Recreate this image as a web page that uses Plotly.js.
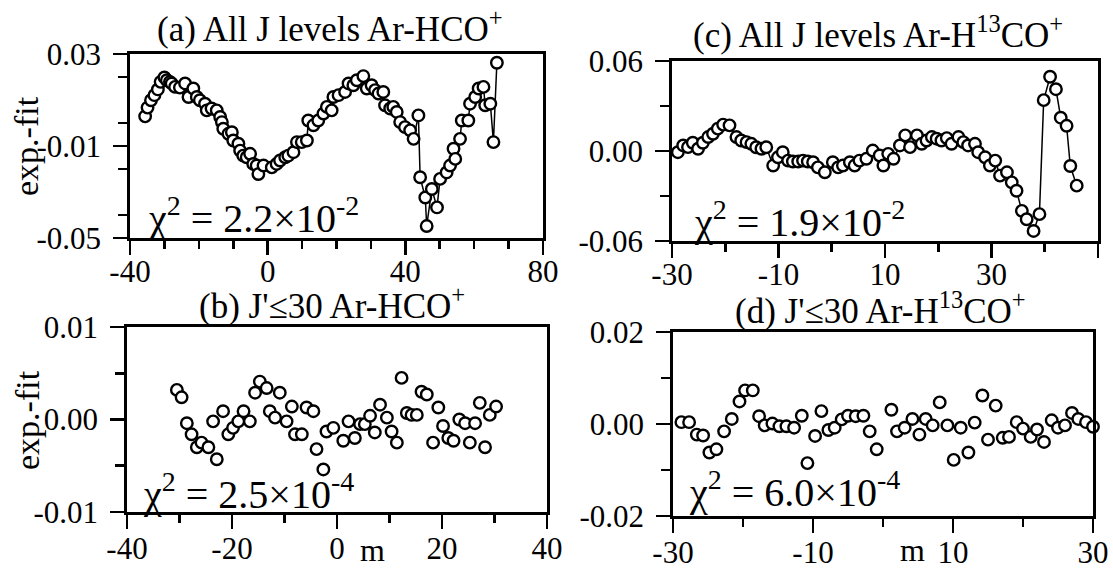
<!DOCTYPE html>
<html>
<head>
<meta charset="utf-8">
<script src="https://cdn.plot.ly/plotly-3.0.1.min.js"></script>
<style>html,body{margin:0;padding:0;background:#fff;}#chart{width:1113px;height:569px;}</style>
</head>
<body>
<div id="chart"></div>
<script>
// ---------- data ----------
// (a) All J levels Ar-HCO+
const mA = [-35.6,-34.9,-33.9,-32.9,-31.9,-31.1,-30.0,-29.3,-28.4,-27.9,-26.9,-25.5,-24.0,-23.0,-21.6,-20.6,-19.7,-18.2,-17.7,-16.3,-14.8,-13.8,-13.3,-12.9,-11.4,-10.4,-10.0,-8.5,-8.0,-7.1,-6.1,-5.1,-4.2,-3.2,-2.7,-1.2,1.2,2.6,3.6,5.1,6.0,7.5,8.5,9.9,11.4,11.8,13.3,14.7,16.2,17.2,18.6,19.1,20.6,22.5,23.5,24.9,25.9,27.8,28.8,30.2,31.2,32.2,33.6,34.1,35.6,36.5,37.5,38.5,39.9,41.4,42.4,43.8,44.3,45.8,46.2,47.7,49.2,50.1,52.0,53.0,54.0,54.5,55.9,56.4,58.3,58.8,60.3,61.3,62.7,63.2,64.7,65.6,66.6];
const dA = [0.0029,0.0067,0.0099,0.0121,0.0146,0.0179,0.0198,0.0186,0.0179,0.0172,0.0157,0.0154,0.0172,0.0113,0.0150,0.0113,0.0099,0.0084,0.0055,0.0063,0.0055,0.0026,0.0004,-0.0025,-0.0047,-0.0040,-0.0076,-0.0090,-0.0120,-0.0142,-0.0149,-0.0134,-0.0178,-0.0185,-0.0222,-0.0185,-0.0193,-0.0178,-0.0163,-0.0149,-0.0142,-0.0127,-0.0083,-0.0083,-0.0076,0.0011,-0.0010,0.0011,0.0041,0.0070,0.0055,0.0113,0.0121,0.0135,0.0172,0.0164,0.0186,0.0204,0.0150,0.0164,0.0143,0.0128,0.0135,0.0077,0.0063,0.0070,0.0048,0.0004,-0.0018,-0.0032,-0.0069,0.0033,-0.0236,-0.0324,-0.0448,-0.0287,-0.0367,-0.0243,-0.0215,-0.0185,-0.0112,-0.0156,-0.0069,0.0011,0.0011,0.0084,0.0113,0.0150,0.0157,0.0077,0.0084,-0.0083,0.0262];

// (b) J'<=30 Ar-HCO+
const mB = [-30.5,-29.6,-28.6,-27.7,-26.7,-25.8,-24.5,-23.6,-22.9,-21.7,-20.7,-19.8,-18.8,-17.8,-16.6,-15.6,-14.7,-13.4,-12.8,-11.8,-10.9,-9.6,-8.6,-8.0,-6.7,-5.8,-4.5,-3.9,-2.6,-2.0,-0.7,1.2,2.2,3.4,4.4,5.3,6.3,7.2,8.2,9.5,10.4,11.4,12.3,13.3,14.2,15.2,16.1,17.1,18.3,19.3,20.2,21.2,22.2,23.3,24.4,25.3,26.3,27.2,28.2,29.1,30.3];
const dB = [0.0032,0.0024,-0.0004,-0.0016,-0.0030,-0.0025,-0.0030,-0.0002,-0.0043,0.0009,-0.0016,-0.0009,-0.0002,0.0009,-0.0002,0.0029,0.0041,0.0034,0.0009,0.0002,0.0029,-0.0002,0.0014,-0.0016,-0.0016,0.0013,0.0009,-0.0032,-0.0054,-0.0013,-0.0009,-0.0023,-0.0002,-0.0020,-0.0005,-0.0005,0.0004,-0.0014,0.0016,0.0002,-0.0013,-0.0025,0.0045,0.0007,0.0005,0.0005,0.0030,0.0027,-0.0025,0.0013,-0.0007,-0.0020,-0.0023,0.0000,-0.0004,-0.0025,-0.0004,0.0018,-0.0030,0.0005,0.0014];

// (c) All J levels Ar-H13CO+
const mC = [-28.9,-27.9,-27.0,-26.1,-25.1,-24.2,-23.2,-22.3,-21.4,-20.4,-19.2,-17.9,-17.0,-16.0,-15.1,-14.2,-13.2,-12.3,-11.0,-10.1,-9.2,-8.2,-7.3,-6.3,-5.4,-4.5,-3.5,-2.6,-1.3,0.2,1.2,2.1,3.4,4.3,5.2,6.5,7.7,9.0,9.7,10.6,11.6,12.8,13.8,14.7,16.0,16.9,17.8,18.8,19.7,20.6,21.6,22.5,23.8,24.7,25.6,26.9,27.5,28.8,29.7,30.7,31.6,32.9,33.8,34.7,35.7,36.6,37.9,39.0,39.8,41.0,42.1,43.0,44.1,44.8,46.0];
const dC = [-0.0008,0.0037,0.0026,0.0055,0.0015,0.0055,0.0093,0.0115,0.0149,0.0176,0.0171,0.0093,0.0070,0.0059,0.0048,0.0025,0.0015,0.0025,-0.0097,-0.0042,-0.0008,-0.0064,-0.0070,-0.0070,-0.0064,-0.0070,-0.0075,-0.0109,-0.0142,-0.0075,-0.0109,-0.0097,-0.0075,-0.0097,-0.0064,-0.0052,0.0003,-0.0030,-0.0097,-0.0019,-0.0052,0.0037,0.0104,0.0026,0.0104,0.0048,0.0070,0.0093,0.0082,0.0070,0.0086,0.0048,0.0093,0.0059,0.0037,0.0048,-0.0008,-0.0042,-0.0097,-0.0064,-0.0164,-0.0142,-0.0209,-0.0265,-0.0399,-0.0455,-0.0533,-0.0421,0.0339,0.0495,0.0412,0.0222,0.0168,-0.0100,-0.0231];

// (d) J'<=30 Ar-H13CO+
const mD = [-28.8,-27.7,-26.6,-25.7,-24.8,-23.8,-22.7,-21.6,-20.5,-19.7,-18.6,-17.7,-16.9,-15.8,-14.8,-13.8,-12.7,-11.6,-10.8,-9.7,-8.8,-7.8,-6.9,-5.9,-5.0,-3.9,-2.8,-1.9,-0.9,1.2,2.0,3.1,4.2,5.2,6.1,7.1,8.1,9.2,10.1,11.1,12.2,13.1,14.2,15.0,16.1,17.1,18.0,19.1,20.0,21.1,22.0,23.0,24.1,25.0,26.0,27.0,27.9,29.0,30.0];
const dD = [0.0004,0.0004,-0.0023,-0.0025,-0.0062,-0.0055,-0.0016,0.0011,0.0049,0.0073,0.0073,0.0017,-0.0003,0.0001,-0.0005,-0.0005,-0.0008,0.0018,-0.0085,-0.0026,0.0028,-0.0013,-0.0008,0.0010,0.0018,0.0017,0.0018,-0.0016,-0.0055,0.0031,-0.0016,-0.0008,0.0011,-0.0023,0.0011,-0.0003,0.0047,-0.0003,-0.0078,-0.0008,-0.0062,0.0003,0.0062,-0.0034,0.0040,-0.0030,-0.0028,0.0004,-0.0010,-0.0028,-0.0012,-0.0039,0.0008,-0.0008,-0.0003,0.0024,0.0011,0.0004,-0.0006];

// tick values and labels
const xTickA = [-40, 0, 40, 80];          const xTextA = ["-40", "0", "40", "80"];
const yTickA = [-0.05, -0.01, 0.03];      const yTextA = ["-0.05", "-0.01", "0.03"];
const xTickB = [-40, -20, 0, 20, 40];     const xTextB = ["-40", "-20", "0", "20", "40"];
const yTickB = [-0.01, 0, 0.01];          const yTextB = ["-0.01", "0.00", "0.01"];
const xTickC = [-30, -10, 10, 30, 50];    const xTextC = ["-30", "-10", "10", "30", "50"];
const yTickC = [-0.06, 0, 0.06];          const yTextC = ["-0.06", "0.00", "0.06"];
const xTickD = [-30, -10, 10, 30];        const xTextD = ["-30", "-10", "10", "30"];
const yTickD = [-0.02, 0, 0.02];          const yTextD = ["-0.02", "0.00", "0.02"];

const titles = ["(a) All J levels Ar-HCO<sup>+</sup>", "(b) J'≤30 Ar-HCO<sup>+</sup>",
                "(c) All J levels Ar-H<sup>13</sup>CO<sup>+</sup>", "(d) J'≤30 Ar-H<sup>13</sup>CO<sup>+</sup>"];
const chiText = ["χ<sup>2</sup> = 2.2×10<sup>-2</sup>", "χ<sup>2</sup> = 2.5×10<sup>-4</sup>",
                 "χ<sup>2</sup> = 1.9×10<sup>-2</sup>", "χ<sup>2</sup> = 6.0×10<sup>-4</sup>"];
const yLabel = "exp.-fit";
const xLabel = "m";

// ---------- layout helpers ----------
const W = 1113, H = 569;
const FONT = "Liberation Serif, Times New Roman, serif";
const fx = px => px / W;
const fy = py => 1 - py / H;

const marker = {symbol: "circle", size: 11.5, color: "white", line: {color: "black", width: 2.4}};

function xAx(dom, range, tv, tt, minorStep, anchor, standoff) {
  return {
    domain: [fx(dom[0]), fx(dom[1])], range: range, anchor: anchor,
    tickmode: "array", tickvals: tv, ticktext: tt,
    ticks: "outside", ticklen: 14, tickwidth: 2.6, tickcolor: "black",
    minor: {tickmode: "linear", tick0: 0, dtick: minorStep, ticks: "outside", ticklen: 8, tickwidth: 2.6, tickcolor: "black", showgrid: false},
    showline: true, linewidth: 2.8, linecolor: "black", mirror: true,
    showgrid: false, zeroline: false,
    tickfont: {family: FONT, size: 31, color: "black"}, ticklabelstandoff: standoff
  };
}
function yAx(dom, range, tv, tt, minorStep, anchor) {
  return {
    domain: [fy(dom[1]), fy(dom[0])], range: range, anchor: anchor,
    tickmode: "array", tickvals: tv, ticktext: tt,
    ticks: "outside", ticklen: 14, tickwidth: 2.6, tickcolor: "black",
    minor: {tickmode: "linear", tick0: 0, dtick: minorStep, ticks: "outside", ticklen: 9, tickwidth: 2.6, tickcolor: "black", showgrid: false},
    showline: true, linewidth: 2.8, linecolor: "black", mirror: true,
    showgrid: false, zeroline: false,
    tickfont: {family: FONT, size: 31, color: "black"}, ticklabelstandoff: 6
  };
}

const traces = [
  {x: mA, y: dA, xaxis: "x", yaxis: "y", mode: "lines+markers", line: {color: "black", width: 1.5}, marker: marker, cliponaxis: false},
  {x: mB, y: dB, xaxis: "x2", yaxis: "y2", mode: "markers", marker: marker, cliponaxis: false},
  {x: mC, y: dC, xaxis: "x3", yaxis: "y3", mode: "lines+markers", line: {color: "black", width: 1.5}, marker: marker, cliponaxis: false},
  {x: mD, y: dD, xaxis: "x4", yaxis: "y4", mode: "markers", marker: marker, cliponaxis: false}
];

const tf = {family: FONT, size: 35, color: "black"};
const mf = {family: FONT, size: 32, color: "black"};
const yf = {family: FONT, size: 34, color: "black"};
const cf = {family: FONT, size: 40, color: "black"};
function ann(text, xp, yp, font, xa, ya, extra) {
  return Object.assign({text: text, x: fx(xp), y: fy(yp), xref: "paper", yref: "paper",
    xanchor: xa, yanchor: ya, showarrow: false, font: font}, extra || {});
}

const annotations = [
  ann(titles[0], 330, 26, tf, "center", "middle"),
  ann(titles[1], 332, 303, tf, "center", "middle"),
  ann(titles[2], 878, 32, tf, "center", "middle"),
  ann(titles[3], 880, 308, tf, "center", "middle"),
  ann(chiText[0], 146, 243, cf, "left", "bottom"),
  ann(chiText[1], 141, 519, cf, "left", "bottom"),
  ann(chiText[2], 692, 247, cf, "left", "bottom"),
  ann(chiText[3], 687, 517, cf, "left", "bottom"),
  ann(yLabel, 27, 146, yf, "center", "middle", {textangle: -90}),
  ann(yLabel, 27, 420, yf, "center", "middle", {textangle: -90}),
  ann(xLabel, 372, 550, mf, "center", "middle"),
  ann(xLabel, 912, 550, mf, "center", "middle")
];

const layout = {
  width: W, height: H, margin: {l: 0, r: 0, t: 0, b: 0},
  paper_bgcolor: "white", plot_bgcolor: "white", showlegend: false,
  font: {family: FONT, color: "black"},
  xaxis:  xAx([130, 543], [-40, 80], xTickA, xTextA, 10, "y", -10),
  yaxis:  yAx([54, 238], [-0.05, 0.03], yTickA, yTextA, 0.02, "x"),
  xaxis2: xAx([127, 547], [-40, 40], xTickB, xTextB, 10, "y2", -7),
  yaxis2: yAx([327, 512], [-0.01, 0.01], yTickB, yTextB, 0.005, "x2"),
  xaxis3: xAx([672, 1098], [-30, 50], xTickC, xTextC, 10, "y3", -10),
  yaxis3: yAx([61, 241], [-0.06, 0.06], yTickC, yTextC, 0.03, "x3"),
  xaxis4: xAx([673, 1093], [-30, 30], xTickD, xTextD, 10, "y4", -7),
  yaxis4: yAx([332, 516], [-0.02, 0.02], yTickD, yTextD, 0.01, "x4"),
  annotations: annotations
};

Plotly.newPlot("chart", traces, layout, {staticPlot: true, displayModeBar: false});
</script>
</body>
</html>
